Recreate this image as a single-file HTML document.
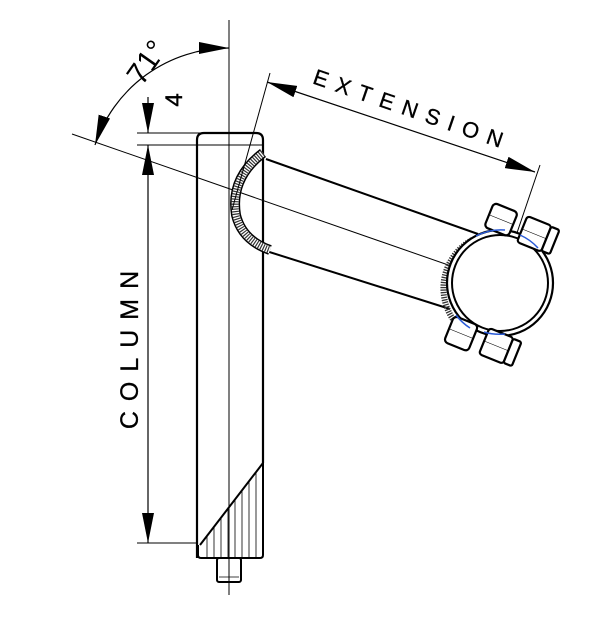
<!DOCTYPE html>
<html><head><style>html,body{margin:0;padding:0;background:#fff}svg{display:block}</style></head><body>
<svg width="616" height="627" viewBox="0 0 616 627" xmlns="http://www.w3.org/2000/svg" font-family="Liberation Sans, sans-serif">
<defs>
<marker id="b" viewBox="0 0 30 12" refX="30" refY="6" markerWidth="30" markerHeight="12" markerUnits="userSpaceOnUse" orient="auto-start-reverse"><path d="M0,0 L30,6 L0,12z" fill="#000"/></marker>
</defs>
<g stroke="#000" fill="none">
<line x1="229" y1="20" x2="229" y2="595" stroke-width="1"/>
<line x1="72" y1="134" x2="500" y2="283" stroke-width="1"/>
<path d="M229,48 A141,141 0 0 0 95,145" stroke-width="1.2" marker-start="url(#b)" marker-end="url(#b)"/>
<line x1="137" y1="133" x2="228" y2="133" stroke-width="1"/>
<line x1="137" y1="145" x2="197" y2="145" stroke-width="1"/>
<line x1="148" y1="97" x2="148" y2="133" stroke-width="1.2" marker-end="url(#b)"/>
<line x1="148" y1="145" x2="148" y2="543" stroke-width="1.2" marker-start="url(#b)" marker-end="url(#b)"/>
<line x1="137" y1="543" x2="198" y2="543" stroke-width="1"/>
<path d="M197,558 V140 Q197,133 204,133 H256 Q263,133 263,140 V463" stroke-width="2.2"/>
<path d="M197,145 H263" stroke-width="1"/>
<line x1="263" y1="463" x2="263" y2="555" stroke-width="2"/>
<path d="M200,545 L263,463" stroke-width="2"/>
<path d="M198,545 V555 Q198,558 201,558 H260 Q263,558 263,555" stroke-width="2"/>
<g stroke-width="0.8">
<line x1="207" y1="536" x2="207" y2="557"/><line x1="214" y1="527" x2="214" y2="557"/><line x1="221" y1="518" x2="221" y2="557"/><line x1="228" y1="509" x2="228" y2="557"/><line x1="235" y1="500" x2="235" y2="557"/><line x1="242" y1="491" x2="242" y2="557"/><line x1="249" y1="482" x2="249" y2="557"/><line x1="256" y1="473" x2="256" y2="557"/>
</g>
<rect x="217" y="558" width="24" height="24" rx="2" stroke-width="2"/>
<line x1="219" y1="577" x2="239" y2="577" stroke-width="0.8"/>
<line x1="266" y1="159" x2="478" y2="234" stroke-width="2"/>
<line x1="263" y1="250" x2="450" y2="309" stroke-width="2"/>
<path d="M263,153 Q230,178 236,215 Q242,240 270,250" stroke-width="10" stroke="#000"/>
<path d="M263,153 Q230,178 236,215 Q242,240 270,250" stroke-width="7" stroke="#fff"/>
<path d="M263,153 Q230,178 236,215 Q242,240 270,250" stroke-width="7" stroke="#333" stroke-dasharray="1.2 1.3"/>
<line x1="270" y1="73" x2="232" y2="210" stroke-width="1"/>
<line x1="540" y1="165" x2="500" y2="283" stroke-width="1"/>
<line x1="267" y1="82" x2="535" y2="172" stroke-width="1.2" marker-start="url(#b)" marker-end="url(#b)"/>
<path d="M472,240 A55,55 0 0 0 455,322" stroke-width="6" stroke="#333" stroke-dasharray="1.3 1.2"/>
<circle cx="500" cy="283" r="53" stroke-width="2.2" fill="#fff"/>
<circle cx="500" cy="283" r="48" stroke-width="2"/>
<g stroke-width="2.2" fill="#fff">
<g transform="translate(502,220) rotate(22)"><rect x="-14" y="-13" width="26" height="26" rx="4"/><line x1="-14" y1="0" x2="12" y2="0" stroke-width="0.6"/></g>
<g transform="translate(537,235) rotate(22)"><rect x="-16" y="-14" width="26" height="28" rx="3"/><rect x="10" y="-13" width="9" height="26" rx="2"/><line x1="-16" y1="0" x2="10" y2="0" stroke-width="0.6"/></g>
<g transform="translate(462,334) rotate(22)"><rect x="-14" y="-14" width="26" height="28" rx="4"/><line x1="-14" y1="0" x2="12" y2="0" stroke-width="0.6"/></g>
<g transform="translate(499,347) rotate(22)"><rect x="-16" y="-14" width="26" height="28" rx="3"/><rect x="10" y="-13" width="9" height="26" rx="2"/><line x1="-16" y1="0" x2="10" y2="0" stroke-width="0.6"/></g>
</g>
<path d="M476,236 A53,53 0 0 1 505,230" stroke="#2a5bd7" stroke-width="1.5"/>
<path d="M520,235 A53,53 0 0 1 538,248" stroke="#2a5bd7" stroke-width="1.5"/>
<path d="M456,315 A53,53 0 0 0 470,328" stroke="#2a5bd7" stroke-width="1.5"/>
<path d="M484,332 A53,53 0 0 0 505,334" stroke="#2a5bd7" stroke-width="1.5"/>
</g>
<text x="0" y="0" font-size="30" transform="translate(155,68) rotate(-55)" text-anchor="middle">71°</text>
<text x="0" y="0" font-size="24" stroke="#000" stroke-width="0.4" transform="translate(182,100) rotate(-90)" text-anchor="middle">4</text>
<text x="0" y="0" font-size="25" stroke="#000" stroke-width="0.3" letter-spacing="10" transform="translate(138,345) rotate(-90)" text-anchor="middle">COLUMN</text>
<text x="0" y="0" font-size="22" stroke="#000" stroke-width="0.3" letter-spacing="9" transform="translate(410,117) rotate(19)" text-anchor="middle">EXTENSION</text>
</svg>
</body></html>
